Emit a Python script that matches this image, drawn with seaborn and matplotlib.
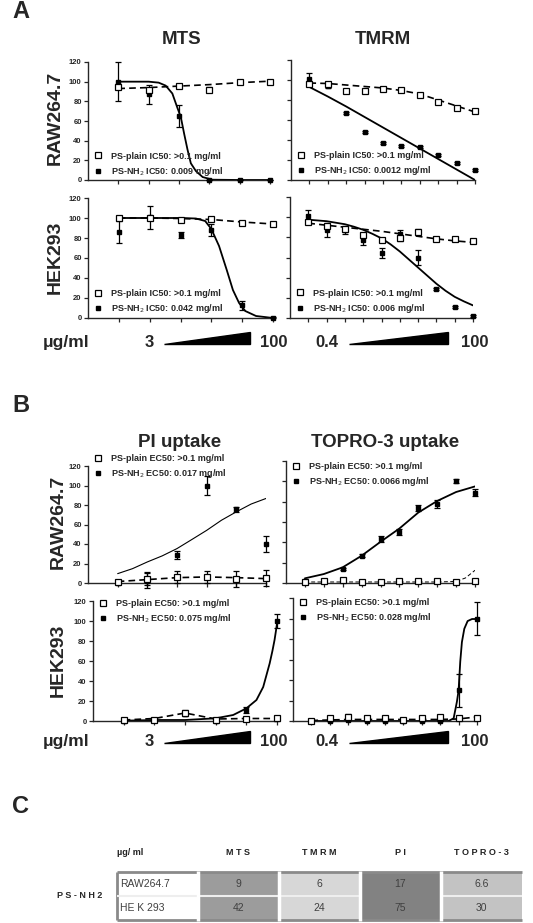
import numpy as np
import matplotlib
matplotlib.use('Agg')
import matplotlib.pyplot as plt
from matplotlib.colors import ListedColormap
from matplotlib.lines import Line2D
from matplotlib.patches import Polygon
import seaborn as sns

sns.set_style('ticks')
plt.rcParams['font.family'] = ['Liberation Sans', 'DejaVu Sans']

W, H = 533, 923

# dilution steps (equally spaced on the plot)
dose6 = [0, 1, 2, 3, 4, 5]
dose10 = [0, 1, 2, 3, 4, 5, 6, 7, 8, 9]

# ---- A: MTS, RAW264.7
mts_raw_plain = [95, 92, 95.5, 92, 99.5, 100]
mts_raw_plain_err = [2.5, 2, 1.5, 3, 2, 1]
mts_raw_nh2 = [100, 87, 65, 0, 0, 0]
mts_raw_nh2_err = [20, 10, 11, 0.5, 0.5, 0.5]
mts_raw_plain_fit = [93, 94, 95.5, 97, 99, 100.5]
mts_raw_fit_x = [0, 1, 1.33, 1.56, 1.78, 1.94, 2.06, 2.17, 2.28, 2.39, 2.56, 2.78, 3.1, 4, 5]
mts_raw_fit = [100, 100, 99, 96, 88, 74, 64, 47, 31, 17, 9, 3, 0.3, 0, 0]

# ---- A: TMRM, RAW264.7
tmrm_raw_plain = [96, 96, 89, 89, 91.5, 90, 85, 78.5, 72.5, 69.5]
tmrm_raw_plain_err = [2, 1.5, 1, 1, 1, 1, 1, 1, 1, 1]
tmrm_raw_nh2 = [101, 94.5, 67.5, 48, 37, 34, 33, 25.5, 17.5, 10]
tmrm_raw_nh2_err = [6, 2, 1, 1, 1, 1, 1, 1, 1, 1]
tmrm_raw_plain_fit = [97, 96.5, 95, 93.5, 92, 89.5, 86, 80, 74, 68]
tmrm_raw_fit = [93, 83.5, 73.5, 63, 52.5, 42, 31.5, 21, 10.5, 0]

# ---- A: MTS, HEK293
mts_hek_plain = [100, 100, 98, 99.5, 95.5, 94]
mts_hek_plain_err = [1, 1, 1, 1.5, 1, 1]
mts_hek_nh2 = [86, 101, 83, 88, 13, 0.5]
mts_hek_nh2_err = [11, 11.5, 3, 6, 4.5, 0.5]
mts_hek_plain_fit = [100, 100, 99.5, 98.5, 96, 94]
mts_hek_fit_x = [0, 1, 2, 2.5, 2.8, 3.0, 3.25, 3.5, 3.7, 3.9, 4.1, 4.45, 5]
mts_hek_fit = [100, 100, 100, 99.5, 97, 89, 72, 48, 28, 15, 7, 2, 0]

# ---- A: TMRM, HEK293
tmrm_hek_plain = [95, 91, 88, 82, 77, 79.5, 85, 78.5, 78, 76]
tmrm_hek_plain_err = [2, 2, 2, 2, 1, 3, 3, 2, 1, 2]
tmrm_hek_nh2 = [101, 87, 87.5, 77, 64.5, 83, 60, 29, 11, 2]
tmrm_hek_nh2_err = [6.5, 7, 4, 5, 5, 4, 7, 1, 1, 1]
tmrm_hek_plain_fit = [94, 92, 90, 88, 86, 83.5, 81, 78.5, 76.5, 75]
tmrm_hek_fit_x = [0, 1, 2, 2.5, 3, 3.5, 4, 4.5, 5, 5.5, 6, 6.5, 7, 7.5, 8, 8.5, 9]
tmrm_hek_fit = [97.5, 96, 93, 90.5, 87.5, 83.5, 79, 73, 66, 58, 50, 42, 34, 27, 21, 16.5, 12.5]

# ---- B: PI uptake, RAW264.7
pi_raw_plain = [1, 4.5, 6.5, 6, 4, 5]
pi_raw_plain_err = [0.5, 7, 6, 6, 8, 8]
pi_raw_nh2 = [0.5, 2.5, 28.5, 100, 75.5, 40]
pi_raw_nh2_err = [0.5, 8, 4, 10, 2.5, 8]
pi_raw_plain_fit = [1.5, 3.5, 5.5, 6.2, 5.5, 4.5]
pi_raw_fit_x = [0, 0.5, 1, 1.5, 2, 2.5, 3, 3.5, 4, 4.5, 5]
pi_raw_fit = [9.6, 14.7, 21.6, 27.8, 35.3, 44.6, 54, 64.4, 73, 81, 86.7]

# ---- B: TOPRO-3 uptake, RAW264.7
topro_raw_plain = [1, 2, 2.5, 1, 1, 1.5, 2, 2, 0.5, 2]
topro_raw_plain_err = [1, 1, 1, 1, 1, 1, 1, 1, 1, 1]
topro_raw_nh2 = [1.5, 2, 14, 27, 43, 50, 73.5, 77.5, 100.5, 89]
topro_raw_nh2_err = [0.5, 0.5, 1, 1.5, 3, 3, 3, 4, 2, 3]
topro_raw_plain_fit_x = [0, 1, 2, 3, 4, 5, 6, 7, 8, 8.5, 9]
topro_raw_plain_fit = [1, 1, 1, 1, 1, 1, 1, 1, 1.5, 5, 12.5]
topro_raw_fit = [4.6, 8.8, 15.4, 26.8, 40.5, 53.6, 69.3, 80.7, 89.5, 95]

# ---- B: PI uptake, HEK293
pi_hek_plain = [1, 1.5, 8.5, 1.5, 2.5, 3]
pi_hek_plain_err = [0.5, 0.5, 2.5, 0.5, 1.5, 2.5]
pi_hek_nh2 = [0.3, 1, 7, 0.5, 11.5, 100.5]
pi_hek_nh2_err = [0.5, 0.5, 2, 0.5, 3, 7]
pi_hek_plain_fit_x = [0, 1, 2, 2.5, 3, 4, 5]
pi_hek_plain_fit = [1, 2.5, 8, 5, 2, 2.5, 2.5]
pi_hek_fit_x = [0, 1, 2, 3, 3.57, 4, 4.33, 4.55, 4.76, 4.85, 4.92, 4.97, 5]
pi_hek_fit = [0.3, 1, 1, 2.7, 6, 12.6, 21, 34, 57.5, 70, 81, 91, 97.4]

# ---- B: TOPRO-3 uptake, HEK293
topro_hek_plain = [0, 2.5, 3.5, 2.5, 3, 0.5, 3, 3.5, 2.5, 3]
topro_hek_plain_err = [0.5, 1, 3, 1, 1, 0.5, 1, 1, 1, 1.5]
topro_hek_nh2 = [0, 0, 1, 0, 0, 0, 0, 0, 30, 100]
topro_hek_nh2_err = [0.3, 0.3, 0.5, 0.3, 0.3, 0.3, 0.3, 0.3, 16, 16]
topro_hek_plain_fit = [0.5, 1, 1.5, 1.5, 1.5, 1.5, 1.5, 1.5, 2, 4]
topro_hek_fit_x = [0, 7, 7.45, 7.73, 7.91, 8, 8.09, 8.18, 8.31, 8.49, 8.73, 9]
topro_hek_fit = [0, 0, 0, 2.6, 19, 30, 58, 77, 90, 97.5, 99.5, 99.5]

# ---- C: table (ug/ml)
table_cols = ['MTS', 'TMRM', 'PI', 'TOPRO-3']
table_rows = ['RAW264.7', 'HE K 293']
ps_nh2_raw = [9, 6, 17, 6.6]
ps_nh2_hek = [42, 24, 75, 30]
cell_colors = ['white', '#9c9c9c', '#d7d7d7', '#828282', '#c3c3c3']


fig = plt.figure(figsize=(W / 100, H / 100), dpi=100)


def fx(px):
    return px / W


def fy(py):
    return 1 - py / H


def add_ax(l, t, r, b):
    return fig.add_axes([fx(l), fy(b), (r - l) / W, (b - t) / H])


def panel(ax, dose, plain, plain_err, nh2, nh2_err, pfit_x, pfit, nfit_x, nfit,
          labels, leg_y, ylabels=True, fit_lw=1.3, plain_lw=1.2):
    sns.lineplot(x=pfit_x, y=pfit, ax=ax, color='black', linewidth=plain_lw,
                 linestyle=(0, (4, 2.5)), zorder=2)
    sns.lineplot(x=nfit_x, y=nfit, ax=ax, color='black', linewidth=fit_lw, zorder=2)
    ax.errorbar(dose, nh2, yerr=nh2_err, fmt='s', color='black', ms=3.2,
                capsize=2.2, elinewidth=0.9, capthick=0.9, zorder=4, clip_on=False)
    ax.errorbar(dose, plain, yerr=plain_err, fmt='s', color='black', mfc='white',
                mec='black', mew=0.9, ms=3.8, capsize=2.2, elinewidth=0.9,
                capthick=0.9, zorder=5, clip_on=False)
    ax.set_xlim(-1, dose[-1])
    ax.set_ylim(0, 120)
    ax.set_xticks(dose)
    ax.set_xticklabels([])
    ax.set_yticks(range(0, 121, 20))
    if not ylabels:
        ax.set_yticklabels([])
    sns.despine(ax=ax)
    for s in ['left', 'bottom']:
        ax.spines[s].set_linewidth(1.0)
    ax.tick_params(length=3, width=0.9, labelsize=5.5, pad=1.5)
    for t in ax.get_yticklabels():
        t.set_fontweight('bold')

    h1 = Line2D([], [], marker='s', ls='none', mfc='white', mec='black', mew=0.9, ms=3.8)
    h2 = Line2D([], [], marker='s', ls='none', color='black', ms=3.2)
    w_px = ax.get_position().width * W
    x0 = (23 - 1.8 * 9) / w_px
    ax.legend([h1, h2], labels, loc='center left', bbox_to_anchor=(x0, leg_y),
              frameon=False, prop={'size': 6.5, 'weight': 'bold'},
              handlelength=0.6, handletextpad=1.2, labelspacing=0.45,
              borderpad=0, borderaxespad=0)


def plain_lbl(kind):
    return 'PS-plain %s: >0.1 mg/ml' % kind


def nh2_lbl(kind, v):
    return 'PS-NH$_2$ %s: %s mg/ml' % (kind, v)


# ---------------- panel A
ax = add_ax(88, 62, 270, 180)
panel(ax, dose6, mts_raw_plain, mts_raw_plain_err, mts_raw_nh2, mts_raw_nh2_err,
      dose6, mts_raw_plain_fit, mts_raw_fit_x, mts_raw_fit,
      [plain_lbl('IC50'), nh2_lbl('IC50', '0.009')], 0.13)

ax = add_ax(291, 60, 475, 180)
panel(ax, dose10, tmrm_raw_plain, tmrm_raw_plain_err, tmrm_raw_nh2, tmrm_raw_nh2_err,
      dose10, tmrm_raw_plain_fit, dose10, tmrm_raw_fit,
      [plain_lbl('IC50'), nh2_lbl('IC50', '0.0012')], 0.13, ylabels=False)

ax = add_ax(88, 198, 273, 318)
panel(ax, dose6, mts_hek_plain, mts_hek_plain_err, mts_hek_nh2, mts_hek_nh2_err,
      dose6, mts_hek_plain_fit, mts_hek_fit_x, mts_hek_fit,
      [plain_lbl('IC50'), nh2_lbl('IC50', '0.042')], 0.135)

ax = add_ax(290, 197, 473, 318)
panel(ax, dose10, tmrm_hek_plain, tmrm_hek_plain_err, tmrm_hek_nh2, tmrm_hek_nh2_err,
      dose10, tmrm_hek_plain_fit, tmrm_hek_fit_x, tmrm_hek_fit,
      [plain_lbl('IC50'), nh2_lbl('IC50', '0.006')], 0.135, ylabels=False)

# ---------------- panel B
ax = add_ax(88, 466, 266, 583)
panel(ax, dose6, pi_raw_plain, pi_raw_plain_err, pi_raw_nh2, pi_raw_nh2_err,
      dose6, pi_raw_plain_fit, pi_raw_fit_x, pi_raw_fit,
      [plain_lbl('EC50'), nh2_lbl('EC50', '0.017')], 0.99, fit_lw=0.8)

ax = add_ax(286, 461, 475, 583)
panel(ax, dose10, topro_raw_plain, topro_raw_plain_err, topro_raw_nh2, topro_raw_nh2_err,
      topro_raw_plain_fit_x, topro_raw_plain_fit, dose10, topro_raw_fit,
      [plain_lbl('EC50'), nh2_lbl('EC50', '0.0066')], 0.885, ylabels=False, plain_lw=0.7)

ax = add_ax(93, 601, 277, 721)
panel(ax, dose6, pi_hek_plain, pi_hek_plain_err, pi_hek_nh2, pi_hek_nh2_err,
      pi_hek_plain_fit_x, pi_hek_plain_fit, pi_hek_fit_x, pi_hek_fit,
      [plain_lbl('EC50'), nh2_lbl('EC50', '0.075')], 0.905)

ax = add_ax(293, 598, 477, 721)
panel(ax, dose10, topro_hek_plain, topro_hek_plain_err, topro_hek_nh2, topro_hek_nh2_err,
      dose10, topro_hek_plain_fit, topro_hek_fit_x, topro_hek_fit,
      [plain_lbl('EC50'), nh2_lbl('EC50', '0.028')], 0.895, ylabels=False)

# titles, row labels, panel letters
for txt, x, y in [('MTS', 182, 39), ('TMRM', 383, 39),
                  ('PI uptake', 180, 443), ('TOPRO-3 uptake', 385, 443)]:
    fig.text(fx(x), fy(y), txt, ha='center', va='center', fontsize=13.5, weight='bold')

for txt, x, y in [('RAW264.7', 55, 118), ('HEK293', 55, 257),
                  ('RAW264.7', 58, 522), ('HEK293', 58, 660)]:
    fig.text(fx(x), fy(y), txt, ha='center', va='center', rotation=90,
             fontsize=14, weight='bold')

for txt, y in [('A', 18), ('B', 412), ('C', 813)]:
    fig.text(fx(12), fy(y), txt, ha='left', va='baseline', fontsize=17, weight='bold')

# concentration ramps
for base in [347, 746]:
    fig.text(fx(43), fy(base), 'μg/ml', ha='left', va='baseline', fontsize=12.5, weight='bold')
    for txt, x in [('3', 149), ('100', 274), ('0.4', 327), ('100', 475)]:
        fig.text(fx(x), fy(base), txt, ha='center', va='baseline', fontsize=12, weight='bold')
    for x1, x2 in [(164, 250), (349, 448)]:
        fig.patches.append(Polygon([(fx(x1), fy(base - 3)), (fx(x2), fy(base - 3)),
                                    (fx(x2), fy(base - 15))], closed=True,
                                   transform=fig.transFigure, color='black'))

# ---------------- panel C table
tab = add_ax(117, 872, 522, 920)
codes = np.array([[0, 1, 2, 3, 4], [0, 1, 2, 3, 4]])
annot = np.array([[''] + ['%g' % v for v in ps_nh2_raw],
                  [''] + ['%g' % v for v in ps_nh2_hek]])
sns.heatmap(codes, cmap=ListedColormap(cell_colors), vmin=-0.5, vmax=4.5,
            annot=annot, fmt='', cbar=False, ax=tab, xticklabels=False,
            yticklabels=False,
            annot_kws={'color': '#404040', 'fontsize': 7.5})
tab.hlines([0, 2], 0, 5, colors='#8a8a8a', lw=2, clip_on=False)
tab.vlines(0, 0, 2, colors='#8a8a8a', lw=2, clip_on=False)
tab.hlines(1, 0, 3, colors='#eeeeee', lw=1.5)
tab.hlines(1, 4, 5, colors='#eeeeee', lw=1.5)
tab.vlines([1, 2, 3, 4], -0.06, 2.06, colors='white', lw=2.5, clip_on=False)
for i, r in enumerate(table_rows):
    tab.text(0.04, i + 0.5, r, ha='left', va='center', color='#404040', fontsize=7.5)
tab.text(0, -0.8, 'µg/ ml', ha='left', va='center', fontsize=6.5, weight='bold',
         color='#222222')
for i, c in enumerate(table_cols):
    tab.text(i + 1.5, -0.8, ' '.join(c), ha='center', va='center', fontsize=6.5,
             weight='bold', color='#222222')
fig.text(fx(80), fy(896), 'P S - N H 2', ha='center', va='center', fontsize=6.5,
         weight='bold')

fig.savefig('out.png', dpi=100)
